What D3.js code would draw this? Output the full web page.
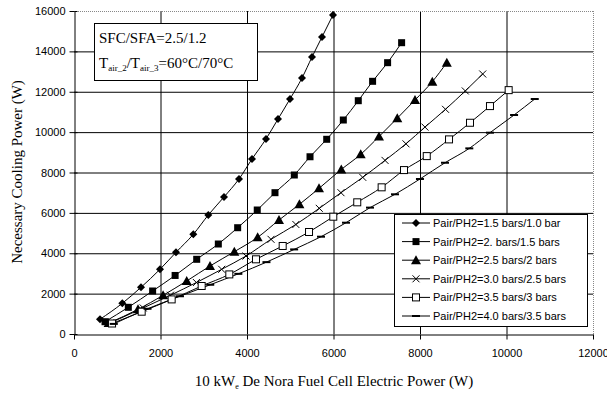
<!DOCTYPE html>
<html><head><meta charset="utf-8">
<script src="https://cdn.jsdelivr.net/npm/d3@7"></script>
<style>
body{margin:0;background:#fff;}
svg{display:block;}
</style></head>
<body>
<svg id="c" width="607" height="394"></svg>
<script>
const xTicks = [0,2000,4000,6000,8000,10000,12000];
const yTicks = [0,2000,4000,6000,8000,10000,12000,14000,16000];
const seriesNames = [
  "Pair/PH2=1.5 bars/1.0 bar",
  "Pair/PH2=2. bars/1.5 bars",
  "Pair/PH2=2.5 bars/2 bars",
  "Pair/PH2=3.0 bars/2.5 bars",
  "Pair/PH2=3.5 bars/3 bars",
  "Pair/PH2=4.0 bars/3.5 bars"
];
const markers = ["diamond","square","triangle","cross","openSquare","dash"];
const s1x = [601,1117,1549,1988,2358,2758,3105,3468,3815,4116,4439,4717,4994,5272,5503,5734,5988];
const s1y = [728,1520,2312,3203,4045,4936,5895,6786,7678,8669,9659,10650,11641,12681,13721,14712,15802];
const s2x = [717,1256,1818,2338,2837,3337,3784,4237,4647,5094,5457,5843,6227,6573,6904,7251,7575];
const s2y = [609,1322,2130,2900,3700,4458,5265,6142,7000,7876,8780,9645,10600,11557,12517,13440,14430];
const s3x = [800,1480,2060,2606,3145,3707,4246,4740,5212,5665,6180,6629,7052,7475,7885,8285,8620];
const s3y = [540,1220,1915,2625,3368,4077,4787,5646,6423,7214,8150,8900,9780,10690,11591,12500,13440];
const s4x = [850,1600,2230,2830,3415,3977,4555,5130,5671,6173,6676,7191,7676,8115,8590,9047,9450];
const s4y = [560,1290,1920,2550,3205,3863,4690,5425,6225,7000,7760,8600,9420,10250,11130,12040,12880];
const s5x = [880,1565,2258,2952,3591,4208,4825,5434,5995,6549,7113,7630,8156,8671,9156,9618,10050];
const s5y = [520,1105,1714,2378,2952,3700,4360,5053,5810,6523,7266,8120,8812,9640,10464,11290,12080];
const s6x = [920,1700,2450,3150,3800,4450,5090,5711,6289,6844,7422,7999,8578,9140,9618,10175,10653];
const s6y = [500,1250,1870,2440,2980,3560,4190,4820,5513,6260,6920,7678,8483,9195,9972,10848,11640];

const allX = [s1x,s2x,s3x,s4x,s5x,s6x];
const allY = [s1y,s2y,s3y,s4y,s5y,s6y];
const series = seriesNames.map((n,i)=>({name:n, marker:markers[i], pts: allX[i].map((x,j)=>[x, allY[i][j]])}));

const svg = d3.select("#c");
const L=74, R=593, T=11, B=334;
const x = d3.scaleLinear().domain([0,12000]).range([L,R]);
const y = d3.scaleLinear().domain([0,16000]).range([B,T]);

// grid
const g = svg.append("g");
g.selectAll(".hg").data(yTicks.filter(v=>v>0&&v<16000)).join("line")
  .attr("x1",L).attr("x2",R).attr("y1",d=>y(d)+0.5).attr("y2",d=>y(d)+0.5)
  .attr("stroke","#000").attr("stroke-width",1);
g.selectAll(".vg").data(xTicks.filter(v=>v>0&&v<12000)).join("line")
  .attr("y1",T).attr("y2",B).attr("x1",d=>x(d)+0.5).attr("x2",d=>x(d)+0.5)
  .attr("stroke","#000").attr("stroke-width",1);
// dotted top/right border
g.append("line").attr("x1",L).attr("x2",R).attr("y1",T+0.5).attr("y2",T+0.5).attr("stroke","#888").attr("stroke-dasharray","1,1");
g.append("line").attr("x1",R+0.5).attr("x2",R+0.5).attr("y1",T).attr("y2",B).attr("stroke","#888").attr("stroke-dasharray","1,1");

// axes
const xa = svg.append("g").attr("transform",`translate(0,${B+0.5})`)
  .call(d3.axisBottom(x).tickValues(xTicks).tickFormat(d3.format("d")).tickSize(5).tickSizeOuter(0));
const ya = svg.append("g").attr("transform",`translate(${L+0.5},0)`)
  .call(d3.axisLeft(y).tickValues(yTicks).tickFormat(d3.format("d")).tickSize(5).tickSizeOuter(0));
[xa,ya].forEach(a=>{
  a.select(".domain").attr("stroke","#000");
  a.selectAll("text").attr("font-family","Liberation Sans, Arial, sans-serif").attr("font-size","11px").attr("fill","#000");
  a.selectAll("line").attr("stroke","#000");
});
xa.selectAll("text").attr("dy","0").attr("y",22);
ya.selectAll("text").attr("x",-9);
ya.selectAll(".tick").append("line").attr("x2",3).attr("stroke","#000");

// lines
const line = d3.line().x(d=>x(d[0])).y(d=>y(d[1])).curve(d3.curveMonotoneX);
const sg = svg.append("g");
series.forEach(s=>{
  sg.append("path").attr("d",line(s.pts)).attr("fill","none").attr("stroke","#000").attr("stroke-width",1);
});

function drawMarker(sel, type){
  if(type==="diamond"){
    sel.append("path").attr("d","M0,-4L4,0L0,4L-4,0Z").attr("fill","#000");
  } else if(type==="square"){
    sel.append("rect").attr("x",-3.5).attr("y",-3.5).attr("width",7).attr("height",7).attr("fill","#000");
  } else if(type==="triangle"){
    sel.append("path").attr("d","M0,-5L5,4L-5,4Z").attr("fill","#000");
  } else if(type==="cross"){
    sel.append("path").attr("d","M-3.5,-3.5L3.5,3.5M-3.5,3.5L3.5,-3.5").attr("stroke","#000").attr("stroke-width",1).attr("fill","none");
  } else if(type==="openSquare"){
    sel.append("rect").attr("x",-3.5).attr("y",-3.5).attr("width",7).attr("height",7).attr("fill","#fff").attr("stroke","#000").attr("stroke-width",1);
  } else if(type==="dash"){
    sel.append("rect").attr("x",-4).attr("y",-1).attr("width",8).attr("height",2).attr("fill","#000");
  }
}
series.forEach(s=>{
  s.pts.forEach(p=>{
    const m = sg.append("g").attr("transform",`translate(${x(p[0])},${y(p[1])})`);
    drawMarker(m, s.marker);
  });
});

// annotation box
const ab = svg.append("g");
ab.append("rect").attr("x",94.5).attr("y",23.5).attr("width",163).attr("height",57).attr("fill","#fff").attr("stroke","#000");
const serif = "Liberation Serif, Times New Roman, serif";
ab.append("text").attr("x",99).attr("y",43).attr("font-family",serif).attr("font-size","15px").text("SFC/SFA=2.5/1.2");
const t2 = ab.append("text").attr("x",99).attr("y",68).attr("font-family",serif).attr("font-size","15px");
t2.append("tspan").text("T");
t2.append("tspan").attr("font-size","9px").attr("dy",3).text("air_2");
t2.append("tspan").attr("dy",-3).text("/T");
t2.append("tspan").attr("font-size","9px").attr("dy",3).text("air_3");
t2.append("tspan").attr("dy",-3).text("=60°C/70°C");

// legend
const lg = svg.append("g");
lg.append("rect").attr("x",394.5).attr("y",214.5).attr("width",193).attr("height",112).attr("fill","#fff").attr("stroke","#000");
series.forEach((s,i)=>{
  const yy = 223 + i*18.6;
  lg.append("line").attr("x1",402).attr("x2",430).attr("y1",yy).attr("y2",yy).attr("stroke","#000");
  const m = lg.append("g").attr("transform",`translate(416,${yy})`);
  drawMarker(m, s.marker);
  lg.append("text").attr("x",433).attr("y",yy+4).attr("font-family","Liberation Sans, Arial, sans-serif").attr("font-size","11px").text(s.name);
});

// axis titles
const xt = svg.append("text").attr("x",334).attr("y",386).attr("text-anchor","middle").attr("font-family",serif).attr("font-size","15px");
xt.append("tspan").text("10 kW");
xt.append("tspan").attr("font-size","8px").attr("dy",3).text("e");
xt.append("tspan").attr("dy",-3).text(" De Nora Fuel Cell Electric Power (W)");
svg.append("text").attr("transform","translate(22,172) rotate(-90)").attr("text-anchor","middle")
  .attr("font-family",serif).attr("font-size","15px").text("Necessary Cooling Power (W)");
</script>
</body></html>
